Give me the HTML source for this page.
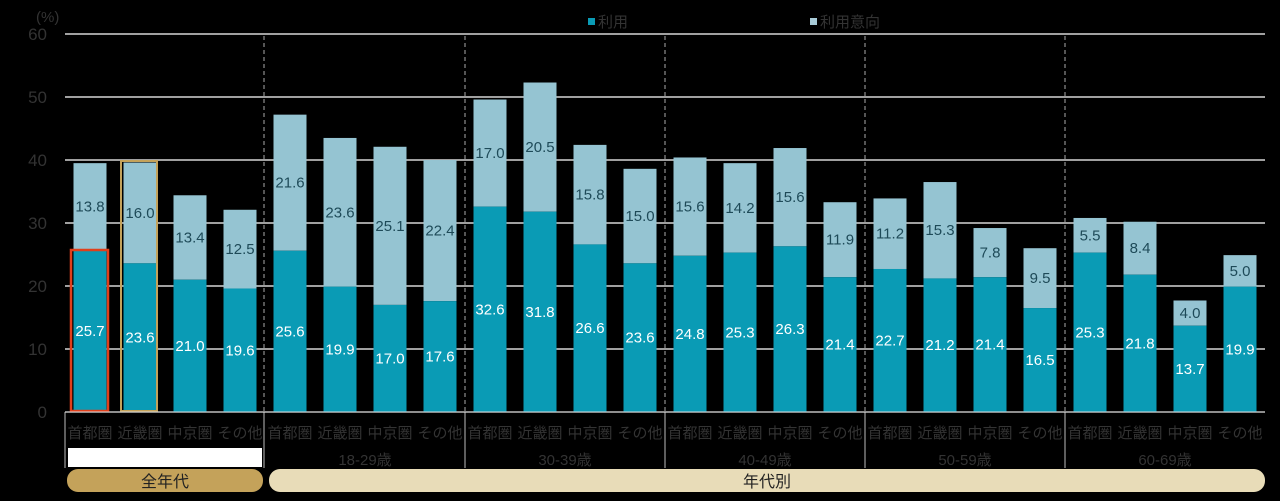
<!DOCTYPE html>
<html><head><meta charset="utf-8"><style>
html,body{margin:0;padding:0;background:#000;width:1280px;height:501px;overflow:hidden}
svg text{font-family:"Liberation Sans","Noto Sans CJK JP",sans-serif}
</style></head><body>
<svg id="c" width="1280" height="501" xmlns="http://www.w3.org/2000/svg"></svg>
<script>
const d=[[25.7,13.8],[23.6,16.0],[21.0,13.4],[19.6,12.5],
[25.6,21.6],[19.9,23.6],[17.0,25.1],[17.6,22.4],
[32.6,17.0],[31.8,20.5],[26.6,15.8],[23.6,15.0],
[24.8,15.6],[25.3,14.2],[26.3,15.6],[21.4,11.9],
[22.7,11.2],[21.2,15.3],[21.4,7.8],[16.5,9.5],
[25.3,5.5],[21.8,8.4],[13.7,4.0],[19.9,5.0]];
const Y=v=>412-v*6.3;let s='';
for(let v=0;v<=60;v+=10){s+=`<line x1="65" x2="1265" y1="${Y(v)}" y2="${Y(v)}" stroke="#fff" stroke-width="1.2"/>`;
s+=`<text x="47" y="${Y(v)+6}" font-size="17" fill="#333" text-anchor="end">${v}</text>`;}
s+=`<text x="36" y="22" font-size="15" fill="#333">(%)</text>`;
s+=`<rect x="588" y="18" width="7" height="7" fill="#0a9bb5"/><text x="598" y="27" font-size="15" fill="#333">利用</text>`;
s+=`<rect x="810" y="18" width="7" height="7" fill="#a8cbd8"/><text x="820" y="27" font-size="15" fill="#333">利用意向</text>`;
const cats=['首都圏','近畿圏','中京圏','その他'];
d.forEach((p,i)=>{const cx=65+50*i+25,x=cx-16.5,b=p[0],t=p[1];
s+=`<rect x="${x}" y="${Y(b+t)}" width="33" height="${t*6.3}" fill="#95c4d2"/>`;
s+=`<rect x="${x}" y="${Y(b)}" width="33" height="${b*6.3}" fill="#0a9bb5"/>`;
s+=`<text x="${cx}" y="${Y(b/2)+5}" font-size="15" fill="#fff" text-anchor="middle">${b.toFixed(1)}</text>`;
s+=`<text x="${cx}" y="${Y(b+t/2)+5}" font-size="15" fill="#1e4a58" text-anchor="middle">${t.toFixed(1)}</text>`;
s+=`<text x="${cx}" y="438" font-size="15" fill="#333" text-anchor="middle">${cats[i%4]}</text>`;});
s+=`<rect x="71" y="250" width="37" height="161" fill="none" stroke="#e0401c" stroke-width="2.5"/>`;
s+=`<rect x="121" y="161" width="36" height="250" fill="none" stroke="#c4a25a" stroke-width="2"/>`;
[264,465,665,865,1065].forEach(x=>{s+=`<line x1="${x}" x2="${x}" y1="36" y2="412" stroke="#aaa" stroke-dasharray="4,3"/>`;});
[65,264,465,665,865,1065].forEach(x=>{s+=`<line x1="${x}" x2="${x}" y1="412" y2="468" stroke="#bbb"/>`;});
s+=`<line x1="65" x2="1265" y1="412" y2="412" stroke="#ddd"/>`;
['18-29歳','30-39歳','40-49歳','50-59歳','60-69歳'].forEach((a,i)=>{s+=`<text x="${365+200*i}" y="465" font-size="15" fill="#333" text-anchor="middle">${a}</text>`;});
s+=`<rect x="68" y="448" width="194" height="19" fill="#fff"/>`;
s+=`<rect x="67" y="469" width="196" height="23" rx="11" fill="#c4a25a"/><text x="165" y="487" font-size="16" fill="#222" text-anchor="middle">全年代</text>`;
s+=`<rect x="269" y="469" width="996" height="23" rx="11" fill="#e8dcb8"/><text x="767" y="487" font-size="16" fill="#222" text-anchor="middle">年代別</text>`;
document.getElementById('c').innerHTML=s;
</script></body></html>
